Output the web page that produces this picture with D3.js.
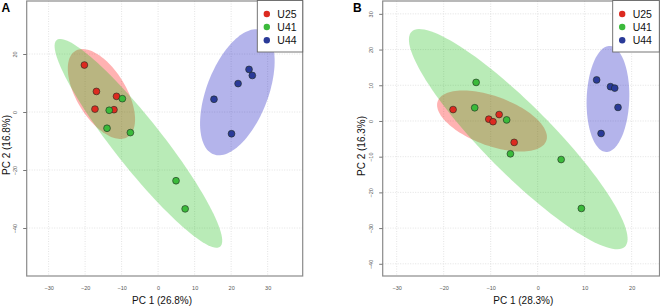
<!DOCTYPE html>
<html>
<head>
<meta charset="utf-8">
<script src="https://cdn.jsdelivr.net/npm/d3@7"></script>
<style>
  body { margin: 0; background: #fff; }
  svg { display: block; font-family: "Liberation Sans", Arial, sans-serif; }
</style>
</head>
<body>
<svg width="660" height="306"></svg>
<script>
(function () {
    'use strict';

    // groups shown in both panels
    const groups = ['U25', 'U41', 'U44'];

    // panel A scores (PC1, PC2)
    const aU25 = [[-20.2, 16.2], [-16.9, 7.1], [-11.4, 5.4], [-17.3, 1.0], [-12.1, 0.8]];
    const aU41 = [[-9.8, 4.6], [-13.4, 0.6], [-14.0, -5.6], [-7.6, -7.1], [4.9, -23.7], [7.4, -33.4]];
    const aU44 = [[15.3, 4.4], [21.9, 9.8], [24.9, 14.7], [25.8, 12.6], [20.1, -7.5]];

    // panel B scores (PC1, PC2)
    const bU25 = [[-18.0, 3.2], [-10.4, 0.5], [-9.5, -0.2], [-8.2, 1.8], [-5.0, -6.0]];
    const bU41 = [[-13.1, 10.8], [-13.4, 3.7], [-6.6, 0.3], [-5.8, -9.2], [5.0, -10.8], [9.3, -24.5]];
    const bU44 = [[12.55, 11.5], [15.5, 9.6], [16.4, 9.2], [17.1, 3.8], [13.5, -3.5]];

    // confidence ellipses: centre x, centre y, semi-axis 1 (dx, dy), semi-axis 2 (dx, dy), in data units
    const aEllipses = [
        [-15.53, 6.21, 7.15, -14.86, 5.81, 4.43],
        [-5.4, -10.8, 22.37, -35.64, 5.16, 5.13],
        [21.7, 6.8, 6.52, 21.4, 7.86, -3.79]
    ];
    const bEllipses = [
        [-9.72, 0.0, 11.55, -5.55, -1.8, -6.5],
        [-4.13, -5.1, 22.7, -30.1, 5.11, 6.72],
        [14.96, 6.16, 0.39, 14.84, 4.53, -0.21]
    ];

    // axes
    const aXDomain = [-36, 39.6];
    const aYDomain = [-56.55, 38.28];
    const bXDomain = [-32.98, 25.93];
    const bYDomain = [-43.42, 33.6];
    const aXTicks = [-30, -20, -10, 0, 10, 20, 30];
    const aYTicks = [-40, -20, 0, 20];
    const bXTicks = [-30, -20, -10, 0, 10, 20];
    const bYTicks = [-40, -30, -20, -10, 0, 10, 20, 30];

    const pointFill = { U25: '#dc2a20', U41: '#3bba3b', U44: '#2a3a98' };
    const ellipseFill = { U25: '#ff0000', U41: '#18bc10', U44: '#0808bc' };

    const svg = d3.select('svg');

    function panel(opt) {
        const x = d3.scaleLinear().domain(opt.xDomain).range([opt.left, opt.right]);
        const y = d3.scaleLinear().domain(opt.yDomain).range([opt.bottom, opt.top]);
        const g = svg.append('g');

        // dotted grid
        g.append('g').selectAll('line').data(opt.xTicks).join('line')
            .attr('x1', d => x(d)).attr('x2', d => x(d))
            .attr('y1', opt.top).attr('y2', opt.bottom);
        g.append('g').selectAll('line').data(opt.yTicks).join('line')
            .attr('x1', opt.left).attr('x2', opt.right)
            .attr('y1', d => y(d)).attr('y2', d => y(d));
        g.selectAll('line')
            .attr('stroke', '#dcdcdc')
            .attr('stroke-width', 0.8)
            .attr('stroke-dasharray', '1,1.5');

        // ellipses
        const line = d3.line().curve(d3.curveLinearClosed);
        const steps = d3.range(0, 2 * Math.PI, Math.PI / 60);
        g.append('g').selectAll('path').data(opt.ellipses).join('path')
            .attr('d', e => line(steps.map(t => [
                x(e[0] + e[2] * Math.cos(t) + e[4] * Math.sin(t)),
                y(e[1] + e[3] * Math.cos(t) + e[5] * Math.sin(t))
            ])))
            .attr('fill', (e, i) => ellipseFill[groups[i]])
            .attr('fill-opacity', 0.3)
            .attr('stroke', 'none');

        // points
        opt.series.forEach((pts, i) => {
            g.append('g').selectAll('circle').data(pts).join('circle')
                .attr('cx', d => x(d[0]))
                .attr('cy', d => y(d[1]))
                .attr('r', 3.4)
                .attr('fill', pointFill[groups[i]])
                .attr('stroke', '#1e2a1e')
                .attr('stroke-width', 0.6);
        });

        // frame
        g.append('rect')
            .attr('x', opt.left).attr('y', opt.top)
            .attr('width', opt.right - opt.left).attr('height', opt.bottom - opt.top)
            .attr('fill', 'none')
            .attr('stroke', '#8a8a8a')
            .attr('stroke-width', 1.2);

        // x tick labels
        g.append('g')
            .attr('transform', `translate(0,${opt.bottom})`)
            .call(d3.axisBottom(x).tickValues(opt.xTicks).tickSize(0).tickPadding(10))
            .call(a => a.select('.domain').remove())
            .call(a => a.selectAll('text')
                .attr('fill', '#555')
                .attr('font-size', '5.5px')
                .attr('font-family', '"Liberation Sans", Arial, sans-serif'));

        // y axis, labels rotated
        g.append('g')
            .attr('transform', `translate(${opt.left},0)`)
            .call(d3.axisLeft(y).tickValues(opt.yTicks).tickSize(3.5))
            .call(a => a.select('.domain').remove())
            .call(a => a.selectAll('.tick line').attr('stroke', '#777'))
            .call(a => a.selectAll('text')
                .attr('x', 0).attr('dy', 0)
                .attr('transform', 'translate(-9.5,0) rotate(-90)')
                .attr('text-anchor', 'middle')
                .attr('fill', '#555')
                .attr('font-size', '5.5px')
                .attr('font-family', '"Liberation Sans", Arial, sans-serif'));

        // axis titles
        g.append('text')
            .attr('x', opt.xTitleX).attr('y', 303.5)
            .attr('text-anchor', 'middle')
            .attr('font-size', '10px')
            .attr('fill', '#111')
            .text(opt.xTitle);
        g.append('text')
            .attr('transform', `translate(${opt.yTitleX},${opt.yTitleY}) rotate(-90)`)
            .attr('text-anchor', 'middle')
            .attr('font-size', '10px')
            .attr('fill', '#111')
            .text(opt.yTitle);

        // panel letter
        g.append('text')
            .attr('x', opt.letterX).attr('y', 12)
            .attr('font-size', '12px')
            .attr('font-weight', 'bold')
            .text(opt.letter);

        // legend
        const lg = g.append('g');
        lg.append('rect')
            .attr('x', opt.legendX).attr('y', 0.5)
            .attr('width', opt.legendW).attr('height', 51.5)
            .attr('fill', '#fff')
            .attr('stroke', '#666')
            .attr('stroke-width', 0.9);
        const rows = [14, 27, 40.3];
        groups.forEach((name, i) => {
            lg.append('circle')
                .attr('cx', opt.legendX + 9.5).attr('cy', rows[i])
                .attr('r', 3.2)
                .attr('fill', pointFill[name]);
            lg.append('text')
                .attr('x', opt.legendX + 20).attr('y', rows[i] + 3.7)
                .attr('font-size', '10.5px')
                .attr('fill', '#111')
                .text(name);
        });
    }

    panel({
        left: 26.7, right: 302.7, top: 1, bottom: 276,
        xDomain: aXDomain, yDomain: aYDomain, xTicks: aXTicks, yTicks: aYTicks,
        ellipses: aEllipses, series: [aU25, aU41, aU44],
        xTitle: 'PC 1 (26.8%)', yTitle: 'PC 2 (16.8%)',
        xTitleX: 162, yTitleX: 9.5, yTitleY: 145,
        letter: 'A', letterX: 1.5,
        legendX: 257.3, legendW: 45.4
    });

    panel({
        left: 382.7, right: 659.5, top: 1, bottom: 276,
        xDomain: bXDomain, yDomain: bYDomain, xTicks: bXTicks, yTicks: bYTicks,
        ellipses: bEllipses, series: [bU25, bU41, bU44],
        xTitle: 'PC 1 (28.3%)', yTitle: 'PC 2 (16.3%)',
        xTitleX: 523.3, yTitleX: 364.5, yTitleY: 146,
        letter: 'B', letterX: 353,
        legendX: 612.7, legendW: 46.6
    });
})();
</script>
</body>
</html>
